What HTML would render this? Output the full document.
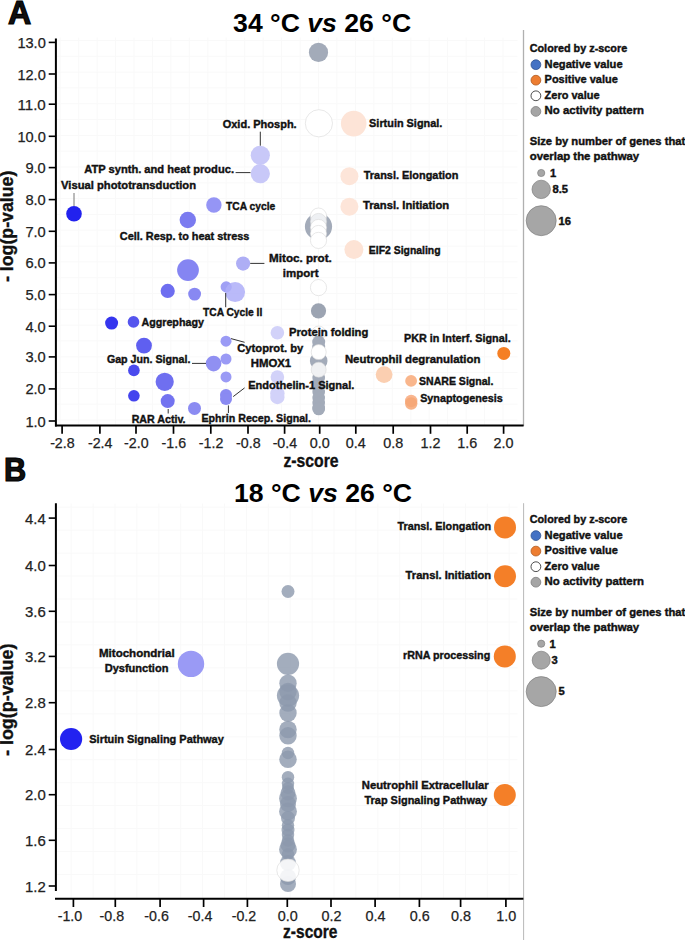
<!DOCTYPE html>
<html><head><meta charset="utf-8"><style>
html,body{margin:0;padding:0;background:#fff;}
body{width:685px;height:940px;overflow:hidden;}
svg{display:block;font-family:"Liberation Sans", sans-serif;}
</style></head><body>
<svg width="685" height="940" viewBox="0 0 685 940">
<rect width="685" height="940" fill="#fff"/>
<line x1="60.2" y1="37.5" x2="60.2" y2="425.5" stroke="#f9f9f9" stroke-width="1"/>
<line x1="78.7" y1="37.5" x2="78.7" y2="425.5" stroke="#f9f9f9" stroke-width="1"/>
<line x1="97.1" y1="37.5" x2="97.1" y2="425.5" stroke="#f9f9f9" stroke-width="1"/>
<line x1="115.6" y1="37.5" x2="115.6" y2="425.5" stroke="#f9f9f9" stroke-width="1"/>
<line x1="134.0" y1="37.5" x2="134.0" y2="425.5" stroke="#f9f9f9" stroke-width="1"/>
<line x1="152.5" y1="37.5" x2="152.5" y2="425.5" stroke="#f9f9f9" stroke-width="1"/>
<line x1="170.9" y1="37.5" x2="170.9" y2="425.5" stroke="#f9f9f9" stroke-width="1"/>
<line x1="189.3" y1="37.5" x2="189.3" y2="425.5" stroke="#f9f9f9" stroke-width="1"/>
<line x1="207.8" y1="37.5" x2="207.8" y2="425.5" stroke="#f9f9f9" stroke-width="1"/>
<line x1="226.2" y1="37.5" x2="226.2" y2="425.5" stroke="#f9f9f9" stroke-width="1"/>
<line x1="244.7" y1="37.5" x2="244.7" y2="425.5" stroke="#f9f9f9" stroke-width="1"/>
<line x1="263.1" y1="37.5" x2="263.1" y2="425.5" stroke="#f9f9f9" stroke-width="1"/>
<line x1="281.6" y1="37.5" x2="281.6" y2="425.5" stroke="#f9f9f9" stroke-width="1"/>
<line x1="300.1" y1="37.5" x2="300.1" y2="425.5" stroke="#f9f9f9" stroke-width="1"/>
<line x1="318.5" y1="37.5" x2="318.5" y2="425.5" stroke="#f9f9f9" stroke-width="1"/>
<line x1="336.9" y1="37.5" x2="336.9" y2="425.5" stroke="#f9f9f9" stroke-width="1"/>
<line x1="355.4" y1="37.5" x2="355.4" y2="425.5" stroke="#f9f9f9" stroke-width="1"/>
<line x1="373.9" y1="37.5" x2="373.9" y2="425.5" stroke="#f9f9f9" stroke-width="1"/>
<line x1="392.3" y1="37.5" x2="392.3" y2="425.5" stroke="#f9f9f9" stroke-width="1"/>
<line x1="410.8" y1="37.5" x2="410.8" y2="425.5" stroke="#f9f9f9" stroke-width="1"/>
<line x1="429.2" y1="37.5" x2="429.2" y2="425.5" stroke="#f9f9f9" stroke-width="1"/>
<line x1="447.6" y1="37.5" x2="447.6" y2="425.5" stroke="#f9f9f9" stroke-width="1"/>
<line x1="466.1" y1="37.5" x2="466.1" y2="425.5" stroke="#f9f9f9" stroke-width="1"/>
<line x1="484.5" y1="37.5" x2="484.5" y2="425.5" stroke="#f9f9f9" stroke-width="1"/>
<line x1="503.0" y1="37.5" x2="503.0" y2="425.5" stroke="#f9f9f9" stroke-width="1"/>
<line x1="56.5" y1="420.0" x2="517.5" y2="420.0" stroke="#f9f9f9" stroke-width="1"/>
<line x1="56.5" y1="404.2" x2="517.5" y2="404.2" stroke="#f9f9f9" stroke-width="1"/>
<line x1="56.5" y1="388.4" x2="517.5" y2="388.4" stroke="#f9f9f9" stroke-width="1"/>
<line x1="56.5" y1="372.6" x2="517.5" y2="372.6" stroke="#f9f9f9" stroke-width="1"/>
<line x1="56.5" y1="356.8" x2="517.5" y2="356.8" stroke="#f9f9f9" stroke-width="1"/>
<line x1="56.5" y1="340.9" x2="517.5" y2="340.9" stroke="#f9f9f9" stroke-width="1"/>
<line x1="56.5" y1="325.1" x2="517.5" y2="325.1" stroke="#f9f9f9" stroke-width="1"/>
<line x1="56.5" y1="309.3" x2="517.5" y2="309.3" stroke="#f9f9f9" stroke-width="1"/>
<line x1="56.5" y1="293.5" x2="517.5" y2="293.5" stroke="#f9f9f9" stroke-width="1"/>
<line x1="56.5" y1="277.7" x2="517.5" y2="277.7" stroke="#f9f9f9" stroke-width="1"/>
<line x1="56.5" y1="261.9" x2="517.5" y2="261.9" stroke="#f9f9f9" stroke-width="1"/>
<line x1="56.5" y1="246.1" x2="517.5" y2="246.1" stroke="#f9f9f9" stroke-width="1"/>
<line x1="56.5" y1="230.2" x2="517.5" y2="230.2" stroke="#f9f9f9" stroke-width="1"/>
<line x1="56.5" y1="214.4" x2="517.5" y2="214.4" stroke="#f9f9f9" stroke-width="1"/>
<line x1="56.5" y1="198.6" x2="517.5" y2="198.6" stroke="#f9f9f9" stroke-width="1"/>
<line x1="56.5" y1="182.8" x2="517.5" y2="182.8" stroke="#f9f9f9" stroke-width="1"/>
<line x1="56.5" y1="167.0" x2="517.5" y2="167.0" stroke="#f9f9f9" stroke-width="1"/>
<line x1="56.5" y1="151.2" x2="517.5" y2="151.2" stroke="#f9f9f9" stroke-width="1"/>
<line x1="56.5" y1="135.4" x2="517.5" y2="135.4" stroke="#f9f9f9" stroke-width="1"/>
<line x1="56.5" y1="119.6" x2="517.5" y2="119.6" stroke="#f9f9f9" stroke-width="1"/>
<line x1="56.5" y1="103.7" x2="517.5" y2="103.7" stroke="#f9f9f9" stroke-width="1"/>
<line x1="56.5" y1="87.9" x2="517.5" y2="87.9" stroke="#f9f9f9" stroke-width="1"/>
<line x1="56.5" y1="72.1" x2="517.5" y2="72.1" stroke="#f9f9f9" stroke-width="1"/>
<line x1="56.5" y1="56.3" x2="517.5" y2="56.3" stroke="#f9f9f9" stroke-width="1"/>
<line x1="56.5" y1="40.5" x2="517.5" y2="40.5" stroke="#f9f9f9" stroke-width="1"/>
<line x1="523.5" y1="29.9" x2="523.5" y2="426.0" stroke="#b0b0b0" stroke-width="1.3"/>
<circle cx="318.5" cy="52.4" r="9.6" fill="#a3abb9"/>
<circle cx="318.9" cy="123.3" r="13.6" fill="#ffffff" stroke="#d8d8d8" stroke-width="0.6"/>
<circle cx="353.7" cy="123.6" r="12.8" fill="#fde4d7"/>
<circle cx="260.3" cy="155.3" r="9.6" fill="#c8c8f8"/>
<circle cx="260.3" cy="173.7" r="9.6" fill="#c8c8f8"/>
<circle cx="349.4" cy="176.2" r="9.0" fill="#fde5d9"/>
<circle cx="349.4" cy="206.7" r="9.0" fill="#fde5d9"/>
<circle cx="213.9" cy="205.0" r="7.7" fill="#9595f5"/>
<circle cx="187.8" cy="220.0" r="8.2" fill="#7b7bf0"/>
<circle cx="318.5" cy="226.5" r="13.6" fill="#a3abb9"/>
<circle cx="318.5" cy="216.1" r="8.1" fill="#ffffff" stroke="#d8d8d8" stroke-width="0.6"/>
<circle cx="318.5" cy="221.5" r="8.1" fill="#eef0f3" stroke="#d8d8d8" stroke-width="0.6"/>
<circle cx="318.5" cy="227.5" r="8.1" fill="#ffffff" stroke="#d8d8d8" stroke-width="0.6"/>
<circle cx="318.5" cy="233.5" r="8.1" fill="#ffffff" stroke="#d8d8d8" stroke-width="0.6"/>
<circle cx="318.5" cy="240.4" r="8.1" fill="#ffffff" stroke="#d8d8d8" stroke-width="0.6"/>
<circle cx="353.9" cy="249.6" r="9.5" fill="#fde3d5"/>
<circle cx="188.0" cy="270.1" r="10.9" fill="#8585f2"/>
<circle cx="243.1" cy="263.6" r="7.1" fill="#aeaef5"/>
<circle cx="167.7" cy="290.9" r="7.1" fill="#6e6ef0"/>
<circle cx="194.6" cy="294.1" r="6.4" fill="#8888f2"/>
<circle cx="226.2" cy="286.9" r="5.6" fill="#a0a0f5"/>
<circle cx="235.1" cy="292.1" r="10.0" fill="#aeaef8" fill-opacity="0.85"/>
<circle cx="318.5" cy="287.6" r="8.1" fill="#ffffff" stroke="#d8d8d8" stroke-width="0.6"/>
<circle cx="318.5" cy="310.8" r="7.6" fill="#9ca4b2"/>
<circle cx="111.6" cy="323.1" r="6.5" fill="#3535ee"/>
<circle cx="133.5" cy="321.9" r="5.8" fill="#5555ee"/>
<circle cx="277.4" cy="332.7" r="6.8" fill="#d2d2f9"/>
<circle cx="226.0" cy="341.2" r="5.5" fill="#9a9af5"/>
<circle cx="144.0" cy="345.6" r="7.9" fill="#5f5ff0"/>
<circle cx="503.8" cy="353.4" r="6.5" fill="#f57f24"/>
<circle cx="213.6" cy="363.6" r="7.8" fill="#9090f2"/>
<circle cx="226.0" cy="359.0" r="5.5" fill="#9a9af5"/>
<circle cx="133.9" cy="370.4" r="5.8" fill="#4a4aee"/>
<circle cx="384.1" cy="374.6" r="8.4" fill="#fbcfb1"/>
<circle cx="226.0" cy="376.9" r="5.5" fill="#9a9af5"/>
<circle cx="277.4" cy="377.0" r="6.8" fill="#d2d2f9"/>
<circle cx="164.7" cy="381.8" r="9.1" fill="#6f6ff0"/>
<circle cx="411.1" cy="380.9" r="5.9" fill="#f9b68c"/>
<circle cx="133.9" cy="395.8" r="5.8" fill="#4444ee"/>
<circle cx="226.0" cy="395.0" r="6.0" fill="#8a8af2"/>
<circle cx="226.0" cy="399.0" r="6.0" fill="#8a8af2"/>
<circle cx="277.4" cy="393.5" r="7.2" fill="#d2d2f9"/>
<circle cx="277.4" cy="397.0" r="7.2" fill="#d2d2f9"/>
<circle cx="167.7" cy="401.1" r="7.0" fill="#7373f0"/>
<circle cx="194.5" cy="408.4" r="6.5" fill="#8b8bf2"/>
<circle cx="411.2" cy="401.0" r="6.2" fill="#f9b690"/>
<circle cx="411.2" cy="403.5" r="6.2" fill="#f6a674" fill-opacity="0.85"/>
<circle cx="74.0" cy="213.8" r="7.8" fill="#2222ee"/>
<circle cx="318.7" cy="333.0" r="7.0" fill="#ffffff" stroke="#d8d8d8" stroke-width="0.6"/>
<circle cx="318.7" cy="342.0" r="6.5" fill="#a3abb9"/>
<circle cx="318.7" cy="347.0" r="6.5" fill="#a3abb9"/>
<circle cx="318.7" cy="355.0" r="6.5" fill="#a3abb9"/>
<circle cx="318.7" cy="361.0" r="8.8" fill="#a3abb9"/>
<circle cx="318.7" cy="366.0" r="6.5" fill="#a3abb9"/>
<circle cx="318.7" cy="378.0" r="6.3" fill="#a3abb9"/>
<circle cx="318.7" cy="385.0" r="6.3" fill="#a3abb9"/>
<circle cx="318.7" cy="392.0" r="6.3" fill="#a3abb9"/>
<circle cx="318.7" cy="398.0" r="6.3" fill="#a3abb9"/>
<circle cx="318.7" cy="403.0" r="6.3" fill="#a3abb9"/>
<circle cx="318.7" cy="408.0" r="6.3" fill="#a3abb9"/>
<circle cx="318.7" cy="409.0" r="6.3" fill="#a3abb9"/>
<circle cx="318.7" cy="352.1" r="7.5" fill="#ffffff" stroke="#d8d8d8" stroke-width="0.6"/>
<circle cx="318.7" cy="369.7" r="7.5" fill="#f0f1f3" stroke="#d8d8d8" stroke-width="0.6"/>
<line x1="74.0" y1="193.0" x2="74.0" y2="206.0" stroke="#777" stroke-width="1"/>
<line x1="260.3" y1="131.7" x2="260.3" y2="145.7" stroke="#333" stroke-width="1"/>
<line x1="235.6" y1="172.6" x2="250.5" y2="172.6" stroke="#333" stroke-width="1"/>
<line x1="250.2" y1="263.4" x2="264.4" y2="263.4" stroke="#333" stroke-width="1"/>
<line x1="225.7" y1="293.0" x2="225.7" y2="307.2" stroke="#333" stroke-width="1"/>
<line x1="231.0" y1="338.6" x2="244.6" y2="342.3" stroke="#333" stroke-width="1"/>
<line x1="192.0" y1="363.4" x2="206.0" y2="363.4" stroke="#333" stroke-width="1"/>
<line x1="233.2" y1="396.6" x2="244.6" y2="387.9" stroke="#333" stroke-width="1"/>
<line x1="228.4" y1="405.4" x2="228.4" y2="413.0" stroke="#333" stroke-width="1"/>
<line x1="168.2" y1="409.0" x2="168.2" y2="413.5" stroke="#333" stroke-width="1"/>
<text x="222.7" y="127.7" font-size="11.2" font-weight="bold" text-anchor="start" fill="#111" textLength="74.0" lengthAdjust="spacingAndGlyphs" stroke="#111" stroke-width="0.4">Oxid. Phosph.</text>
<text x="369.1" y="126.9" font-size="11.2" font-weight="bold" text-anchor="start" fill="#111" textLength="73.2" lengthAdjust="spacingAndGlyphs" stroke="#111" stroke-width="0.4">Sirtuin Signal.</text>
<text x="84.2" y="172.8" font-size="11.2" font-weight="bold" text-anchor="start" fill="#111" textLength="149.8" lengthAdjust="spacingAndGlyphs" stroke="#111" stroke-width="0.4">ATP synth. and heat produc.</text>
<text x="363.8" y="179.4" font-size="11.2" font-weight="bold" text-anchor="start" fill="#111" textLength="94.6" lengthAdjust="spacingAndGlyphs" stroke="#111" stroke-width="0.4">Transl. Elongation</text>
<text x="61.1" y="189.4" font-size="11.2" font-weight="bold" text-anchor="start" fill="#111" textLength="134.9" lengthAdjust="spacingAndGlyphs" stroke="#111" stroke-width="0.4">Visual phototransduction</text>
<text x="226.0" y="209.7" font-size="11.2" font-weight="bold" text-anchor="start" fill="#111" textLength="49.2" lengthAdjust="spacingAndGlyphs" stroke="#111" stroke-width="0.4">TCA cycle</text>
<text x="363.0" y="209.1" font-size="11.2" font-weight="bold" text-anchor="start" fill="#111" textLength="86.2" lengthAdjust="spacingAndGlyphs" stroke="#111" stroke-width="0.4">Transl. Initiation</text>
<text x="119.8" y="239.9" font-size="11.2" font-weight="bold" text-anchor="start" fill="#111" textLength="129.6" lengthAdjust="spacingAndGlyphs" stroke="#111" stroke-width="0.4">Cell. Resp. to heat stress</text>
<text x="368.8" y="253.8" font-size="11.2" font-weight="bold" text-anchor="start" fill="#111" textLength="71.8" lengthAdjust="spacingAndGlyphs" stroke="#111" stroke-width="0.4">EIF2 Signaling</text>
<text x="269.1" y="262.3" font-size="11.2" font-weight="bold" text-anchor="start" fill="#111" textLength="62.7" lengthAdjust="spacingAndGlyphs" stroke="#111" stroke-width="0.4">Mitoc. prot.</text>
<text x="282.8" y="277.2" font-size="11.2" font-weight="bold" text-anchor="start" fill="#111" textLength="35.7" lengthAdjust="spacingAndGlyphs" stroke="#111" stroke-width="0.4">import</text>
<text x="203.0" y="315.8" font-size="11.2" font-weight="bold" text-anchor="start" fill="#111" textLength="59.3" lengthAdjust="spacingAndGlyphs" stroke="#111" stroke-width="0.4">TCA Cycle II</text>
<text x="141.4" y="326.1" font-size="11.2" font-weight="bold" text-anchor="start" fill="#111" textLength="62.5" lengthAdjust="spacingAndGlyphs" stroke="#111" stroke-width="0.4">Aggrephagy</text>
<text x="289.0" y="335.9" font-size="11.2" font-weight="bold" text-anchor="start" fill="#111" textLength="79.3" lengthAdjust="spacingAndGlyphs" stroke="#111" stroke-width="0.4">Protein folding</text>
<text x="404.0" y="342.1" font-size="11.2" font-weight="bold" text-anchor="start" fill="#111" textLength="106.7" lengthAdjust="spacingAndGlyphs" stroke="#111" stroke-width="0.4">PKR in Interf. Signal.</text>
<text x="237.2" y="352.4" font-size="11.2" font-weight="bold" text-anchor="start" fill="#111" textLength="66.1" lengthAdjust="spacingAndGlyphs" stroke="#111" stroke-width="0.4">Cytoprot. by</text>
<text x="106.9" y="362.9" font-size="11.2" font-weight="bold" text-anchor="start" fill="#111" textLength="83.5" lengthAdjust="spacingAndGlyphs" stroke="#111" stroke-width="0.4">Gap Jun. Signal.</text>
<text x="344.9" y="362.7" font-size="11.2" font-weight="bold" text-anchor="start" fill="#111" textLength="135.5" lengthAdjust="spacingAndGlyphs" stroke="#111" stroke-width="0.4">Neutrophil degranulation</text>
<text x="250.7" y="367.1" font-size="11.2" font-weight="bold" text-anchor="start" fill="#111" textLength="40.5" lengthAdjust="spacingAndGlyphs" stroke="#111" stroke-width="0.4">HMOX1</text>
<text x="419.1" y="384.8" font-size="11.2" font-weight="bold" text-anchor="start" fill="#111" textLength="74.3" lengthAdjust="spacingAndGlyphs" stroke="#111" stroke-width="0.4">SNARE Signal.</text>
<text x="248.2" y="388.5" font-size="11.2" font-weight="bold" text-anchor="start" fill="#111" textLength="106.2" lengthAdjust="spacingAndGlyphs" stroke="#111" stroke-width="0.4">Endothelin-1 Signal.</text>
<text x="420.2" y="401.6" font-size="11.2" font-weight="bold" text-anchor="start" fill="#111" textLength="82.6" lengthAdjust="spacingAndGlyphs" stroke="#111" stroke-width="0.4">Synaptogenesis</text>
<text x="131.7" y="422.5" font-size="11.2" font-weight="bold" text-anchor="start" fill="#111" textLength="53.8" lengthAdjust="spacingAndGlyphs" stroke="#111" stroke-width="0.4">RAR Activ.</text>
<text x="201.5" y="421.8" font-size="11.2" font-weight="bold" text-anchor="start" fill="#111" textLength="109.5" lengthAdjust="spacingAndGlyphs" stroke="#111" stroke-width="0.4">Ephrin Recep. Signal.</text>
<line x1="55.9" y1="38.4" x2="55.9" y2="426.6" stroke="#000" stroke-width="2"/>
<line x1="55.0" y1="425.6" x2="523.6" y2="425.6" stroke="#000" stroke-width="2"/>
<line x1="48.7" y1="42.4" x2="56.0" y2="42.4" stroke="#000" stroke-width="1.6"/>
<text x="45.8" y="47.9" font-size="15.5" font-weight="normal" text-anchor="end" fill="#222" textLength="28.4" lengthAdjust="spacingAndGlyphs" stroke="#222" stroke-width="0.25">13.0</text>
<line x1="48.7" y1="74.0" x2="56.0" y2="74.0" stroke="#000" stroke-width="1.6"/>
<text x="45.8" y="79.5" font-size="15.5" font-weight="normal" text-anchor="end" fill="#222" textLength="28.4" lengthAdjust="spacingAndGlyphs" stroke="#222" stroke-width="0.25">12.0</text>
<line x1="48.7" y1="104.2" x2="56.0" y2="104.2" stroke="#000" stroke-width="1.6"/>
<text x="45.8" y="109.7" font-size="15.5" font-weight="normal" text-anchor="end" fill="#222" textLength="28.4" lengthAdjust="spacingAndGlyphs" stroke="#222" stroke-width="0.25">11.0</text>
<line x1="48.7" y1="136.3" x2="56.0" y2="136.3" stroke="#000" stroke-width="1.6"/>
<text x="45.8" y="141.8" font-size="15.5" font-weight="normal" text-anchor="end" fill="#222" textLength="28.4" lengthAdjust="spacingAndGlyphs" stroke="#222" stroke-width="0.25">10.0</text>
<line x1="48.7" y1="167.6" x2="56.0" y2="167.6" stroke="#000" stroke-width="1.6"/>
<text x="45.8" y="173.1" font-size="15.5" font-weight="normal" text-anchor="end" fill="#222" textLength="20.4" lengthAdjust="spacingAndGlyphs" stroke="#222" stroke-width="0.25">9.0</text>
<line x1="48.7" y1="199.6" x2="56.0" y2="199.6" stroke="#000" stroke-width="1.6"/>
<text x="45.8" y="205.1" font-size="15.5" font-weight="normal" text-anchor="end" fill="#222" textLength="20.4" lengthAdjust="spacingAndGlyphs" stroke="#222" stroke-width="0.25">8.0</text>
<line x1="48.7" y1="231.3" x2="56.0" y2="231.3" stroke="#000" stroke-width="1.6"/>
<text x="45.8" y="236.8" font-size="15.5" font-weight="normal" text-anchor="end" fill="#222" textLength="20.4" lengthAdjust="spacingAndGlyphs" stroke="#222" stroke-width="0.25">7.0</text>
<line x1="48.7" y1="262.9" x2="56.0" y2="262.9" stroke="#000" stroke-width="1.6"/>
<text x="45.8" y="268.4" font-size="15.5" font-weight="normal" text-anchor="end" fill="#222" textLength="20.4" lengthAdjust="spacingAndGlyphs" stroke="#222" stroke-width="0.25">6.0</text>
<line x1="48.7" y1="294.6" x2="56.0" y2="294.6" stroke="#000" stroke-width="1.6"/>
<text x="45.8" y="300.1" font-size="15.5" font-weight="normal" text-anchor="end" fill="#222" textLength="20.4" lengthAdjust="spacingAndGlyphs" stroke="#222" stroke-width="0.25">5.0</text>
<line x1="48.7" y1="326.2" x2="56.0" y2="326.2" stroke="#000" stroke-width="1.6"/>
<text x="45.8" y="331.7" font-size="15.5" font-weight="normal" text-anchor="end" fill="#222" textLength="20.4" lengthAdjust="spacingAndGlyphs" stroke="#222" stroke-width="0.25">4.0</text>
<line x1="48.7" y1="356.9" x2="56.0" y2="356.9" stroke="#000" stroke-width="1.6"/>
<text x="45.8" y="362.4" font-size="15.5" font-weight="normal" text-anchor="end" fill="#222" textLength="20.4" lengthAdjust="spacingAndGlyphs" stroke="#222" stroke-width="0.25">3.0</text>
<line x1="48.7" y1="388.9" x2="56.0" y2="388.9" stroke="#000" stroke-width="1.6"/>
<text x="45.8" y="394.4" font-size="15.5" font-weight="normal" text-anchor="end" fill="#222" textLength="20.4" lengthAdjust="spacingAndGlyphs" stroke="#222" stroke-width="0.25">2.0</text>
<line x1="48.7" y1="421.0" x2="56.0" y2="421.0" stroke="#000" stroke-width="1.6"/>
<text x="45.8" y="426.5" font-size="15.5" font-weight="normal" text-anchor="end" fill="#222" textLength="20.4" lengthAdjust="spacingAndGlyphs" stroke="#222" stroke-width="0.25">1.0</text>
<line x1="62.1" y1="426.0" x2="62.1" y2="433.8" stroke="#000" stroke-width="1.7"/>
<text x="62.4" y="448.1" font-size="14.4" font-weight="normal" text-anchor="middle" fill="#222" textLength="24.5" lengthAdjust="spacingAndGlyphs" stroke="#222" stroke-width="0.25">-2.8</text>
<line x1="99.9" y1="426.0" x2="99.9" y2="433.8" stroke="#000" stroke-width="1.7"/>
<text x="100.2" y="448.1" font-size="14.4" font-weight="normal" text-anchor="middle" fill="#222" textLength="24.5" lengthAdjust="spacingAndGlyphs" stroke="#222" stroke-width="0.25">-2.4</text>
<line x1="136.0" y1="426.0" x2="136.0" y2="433.8" stroke="#000" stroke-width="1.7"/>
<text x="136.3" y="448.1" font-size="14.4" font-weight="normal" text-anchor="middle" fill="#222" textLength="24.5" lengthAdjust="spacingAndGlyphs" stroke="#222" stroke-width="0.25">-2.0</text>
<line x1="173.5" y1="426.0" x2="173.5" y2="433.8" stroke="#000" stroke-width="1.7"/>
<text x="173.8" y="448.1" font-size="14.4" font-weight="normal" text-anchor="middle" fill="#222" textLength="24.5" lengthAdjust="spacingAndGlyphs" stroke="#222" stroke-width="0.25">-1.6</text>
<line x1="210.8" y1="426.0" x2="210.8" y2="433.8" stroke="#000" stroke-width="1.7"/>
<text x="211.1" y="448.1" font-size="14.4" font-weight="normal" text-anchor="middle" fill="#222" textLength="24.5" lengthAdjust="spacingAndGlyphs" stroke="#222" stroke-width="0.25">-1.2</text>
<line x1="248.0" y1="426.0" x2="248.0" y2="433.8" stroke="#000" stroke-width="1.7"/>
<text x="248.3" y="448.1" font-size="14.4" font-weight="normal" text-anchor="middle" fill="#222" textLength="24.5" lengthAdjust="spacingAndGlyphs" stroke="#222" stroke-width="0.25">-0.8</text>
<line x1="284.6" y1="426.0" x2="284.6" y2="433.8" stroke="#000" stroke-width="1.7"/>
<text x="284.9" y="448.1" font-size="14.4" font-weight="normal" text-anchor="middle" fill="#222" textLength="24.5" lengthAdjust="spacingAndGlyphs" stroke="#222" stroke-width="0.25">-0.4</text>
<line x1="319.7" y1="426.0" x2="319.7" y2="433.8" stroke="#000" stroke-width="1.7"/>
<text x="319.7" y="448.1" font-size="14.4" font-weight="normal" text-anchor="middle" fill="#222" textLength="20.0" lengthAdjust="spacingAndGlyphs" stroke="#222" stroke-width="0.25">0.0</text>
<line x1="355.8" y1="426.0" x2="355.8" y2="433.8" stroke="#000" stroke-width="1.7"/>
<text x="355.8" y="448.1" font-size="14.4" font-weight="normal" text-anchor="middle" fill="#222" textLength="20.0" lengthAdjust="spacingAndGlyphs" stroke="#222" stroke-width="0.25">0.4</text>
<line x1="393.2" y1="426.0" x2="393.2" y2="433.8" stroke="#000" stroke-width="1.7"/>
<text x="393.2" y="448.1" font-size="14.4" font-weight="normal" text-anchor="middle" fill="#222" textLength="20.0" lengthAdjust="spacingAndGlyphs" stroke="#222" stroke-width="0.25">0.8</text>
<line x1="430.5" y1="426.0" x2="430.5" y2="433.8" stroke="#000" stroke-width="1.7"/>
<text x="430.5" y="448.1" font-size="14.4" font-weight="normal" text-anchor="middle" fill="#222" textLength="20.0" lengthAdjust="spacingAndGlyphs" stroke="#222" stroke-width="0.25">1.2</text>
<line x1="467.2" y1="426.0" x2="467.2" y2="433.8" stroke="#000" stroke-width="1.7"/>
<text x="467.2" y="448.1" font-size="14.4" font-weight="normal" text-anchor="middle" fill="#222" textLength="20.0" lengthAdjust="spacingAndGlyphs" stroke="#222" stroke-width="0.25">1.6</text>
<line x1="503.6" y1="426.0" x2="503.6" y2="433.8" stroke="#000" stroke-width="1.7"/>
<text x="503.6" y="448.1" font-size="14.4" font-weight="normal" text-anchor="middle" fill="#222" textLength="20.0" lengthAdjust="spacingAndGlyphs" stroke="#222" stroke-width="0.25">2.0</text>
<text x="283.4" y="466.7" font-size="18" font-weight="bold" text-anchor="start" fill="#111" textLength="55.2" lengthAdjust="spacingAndGlyphs" stroke="#111" stroke-width="0.35">z-score</text>
<g transform="translate(13.4,282) rotate(-90)">
<text x="0.0" y="0.0" font-size="18" font-weight="bold" text-anchor="start" fill="#111" textLength="111.3" lengthAdjust="spacingAndGlyphs" stroke="#111" stroke-width="0.35">- log(p-value)</text>
</g>
<text x="8.0" y="24.4" font-size="33" font-weight="bold" text-anchor="start" fill="#111" textLength="23.2" lengthAdjust="spacingAndGlyphs" stroke="#000" stroke-width="1.2">A</text>
<text x="3.9" y="480.8" font-size="33" font-weight="bold" text-anchor="start" fill="#111" textLength="22.2" lengthAdjust="spacingAndGlyphs" stroke="#000" stroke-width="1.2">B</text>
<text x="233.1" y="32.1" font-size="26.5" font-weight="bold" fill="#000" textLength="178" lengthAdjust="spacingAndGlyphs">34 °C <tspan font-style="italic">vs</tspan> 26 °C</text>
<text x="234.0" y="501.5" font-size="26.5" font-weight="bold" fill="#000" textLength="178" lengthAdjust="spacingAndGlyphs">18 °C <tspan font-style="italic">vs</tspan> 26 °C</text>
<text x="529.7" y="52.1" font-size="10.5" font-weight="bold" text-anchor="start" fill="#111" textLength="97.5" lengthAdjust="spacingAndGlyphs" stroke="#111" stroke-width="0.4">Colored by z-score</text>
<circle cx="535.9" cy="64.7" r="4.9" fill="#4472c4" stroke="#2f528f" stroke-width="0.8"/>
<text x="544.6" y="67.7" font-size="11.2" font-weight="bold" text-anchor="start" fill="#111" textLength="78.0" lengthAdjust="spacingAndGlyphs" stroke="#111" stroke-width="0.4">Negative value</text>
<circle cx="535.9" cy="80.2" r="4.9" fill="#ed7d31" stroke="#ae5a21" stroke-width="0.8"/>
<text x="544.6" y="83.2" font-size="11.2" font-weight="bold" text-anchor="start" fill="#111" textLength="73.2" lengthAdjust="spacingAndGlyphs" stroke="#111" stroke-width="0.4">Positive value</text>
<circle cx="535.9" cy="95.8" r="4.9" fill="#ffffff" stroke="#222" stroke-width="0.8"/>
<text x="544.6" y="98.8" font-size="11.2" font-weight="bold" text-anchor="start" fill="#111" textLength="55.0" lengthAdjust="spacingAndGlyphs" stroke="#111" stroke-width="0.4">Zero value</text>
<circle cx="535.9" cy="111.4" r="4.9" fill="#a5a5a5" stroke="#7f7f7f" stroke-width="0.8"/>
<text x="544.6" y="114.4" font-size="11.2" font-weight="bold" text-anchor="start" fill="#111" textLength="99.5" lengthAdjust="spacingAndGlyphs" stroke="#111" stroke-width="0.4">No activity pattern</text>
<text x="529.7" y="145.3" font-size="10.5" font-weight="bold" text-anchor="start" fill="#111" textLength="155.5" lengthAdjust="spacingAndGlyphs" stroke="#111" stroke-width="0.4">Size by number of genes that</text>
<text x="529.7" y="159.8" font-size="10.5" font-weight="bold" text-anchor="start" fill="#111" textLength="109.5" lengthAdjust="spacingAndGlyphs" stroke="#111" stroke-width="0.4">overlap the pathway</text>
<circle cx="541.2" cy="173.0" r="3.6" fill="#a6a6a6" stroke="#808080" stroke-width="0.7"/>
<text x="550.0" y="176.8" font-size="11.2" font-weight="bold" text-anchor="start" fill="#111" stroke="#111" stroke-width="0.4">1</text>
<circle cx="541.2" cy="189.4" r="9.2" fill="#a6a6a6" stroke="#808080" stroke-width="0.7"/>
<text x="552.5" y="193.2" font-size="11.2" font-weight="bold" text-anchor="start" fill="#111" stroke="#111" stroke-width="0.4">8.5</text>
<circle cx="541.2" cy="220.7" r="15.0" fill="#a6a6a6" stroke="#808080" stroke-width="0.7"/>
<text x="558.5" y="224.5" font-size="11.2" font-weight="bold" text-anchor="start" fill="#111" stroke="#111" stroke-width="0.4">16</text>
<line x1="71.2" y1="503.5" x2="71.2" y2="898.5" stroke="#f9f9f9" stroke-width="1"/>
<line x1="93.1" y1="503.5" x2="93.1" y2="898.5" stroke="#f9f9f9" stroke-width="1"/>
<line x1="115.0" y1="503.5" x2="115.0" y2="898.5" stroke="#f9f9f9" stroke-width="1"/>
<line x1="136.9" y1="503.5" x2="136.9" y2="898.5" stroke="#f9f9f9" stroke-width="1"/>
<line x1="158.8" y1="503.5" x2="158.8" y2="898.5" stroke="#f9f9f9" stroke-width="1"/>
<line x1="180.7" y1="503.5" x2="180.7" y2="898.5" stroke="#f9f9f9" stroke-width="1"/>
<line x1="202.6" y1="503.5" x2="202.6" y2="898.5" stroke="#f9f9f9" stroke-width="1"/>
<line x1="224.5" y1="503.5" x2="224.5" y2="898.5" stroke="#f9f9f9" stroke-width="1"/>
<line x1="246.4" y1="503.5" x2="246.4" y2="898.5" stroke="#f9f9f9" stroke-width="1"/>
<line x1="268.3" y1="503.5" x2="268.3" y2="898.5" stroke="#f9f9f9" stroke-width="1"/>
<line x1="290.2" y1="503.5" x2="290.2" y2="898.5" stroke="#f9f9f9" stroke-width="1"/>
<line x1="312.1" y1="503.5" x2="312.1" y2="898.5" stroke="#f9f9f9" stroke-width="1"/>
<line x1="334.0" y1="503.5" x2="334.0" y2="898.5" stroke="#f9f9f9" stroke-width="1"/>
<line x1="355.9" y1="503.5" x2="355.9" y2="898.5" stroke="#f9f9f9" stroke-width="1"/>
<line x1="377.8" y1="503.5" x2="377.8" y2="898.5" stroke="#f9f9f9" stroke-width="1"/>
<line x1="399.7" y1="503.5" x2="399.7" y2="898.5" stroke="#f9f9f9" stroke-width="1"/>
<line x1="421.6" y1="503.5" x2="421.6" y2="898.5" stroke="#f9f9f9" stroke-width="1"/>
<line x1="443.5" y1="503.5" x2="443.5" y2="898.5" stroke="#f9f9f9" stroke-width="1"/>
<line x1="465.4" y1="503.5" x2="465.4" y2="898.5" stroke="#f9f9f9" stroke-width="1"/>
<line x1="487.3" y1="503.5" x2="487.3" y2="898.5" stroke="#f9f9f9" stroke-width="1"/>
<line x1="509.2" y1="503.5" x2="509.2" y2="898.5" stroke="#f9f9f9" stroke-width="1"/>
<line x1="56.5" y1="874.5" x2="517.5" y2="874.5" stroke="#f9f9f9" stroke-width="1"/>
<line x1="56.5" y1="851.6" x2="517.5" y2="851.6" stroke="#f9f9f9" stroke-width="1"/>
<line x1="56.5" y1="828.6" x2="517.5" y2="828.6" stroke="#f9f9f9" stroke-width="1"/>
<line x1="56.5" y1="805.6" x2="517.5" y2="805.6" stroke="#f9f9f9" stroke-width="1"/>
<line x1="56.5" y1="782.7" x2="517.5" y2="782.7" stroke="#f9f9f9" stroke-width="1"/>
<line x1="56.5" y1="759.7" x2="517.5" y2="759.7" stroke="#f9f9f9" stroke-width="1"/>
<line x1="56.5" y1="736.8" x2="517.5" y2="736.8" stroke="#f9f9f9" stroke-width="1"/>
<line x1="56.5" y1="713.8" x2="517.5" y2="713.8" stroke="#f9f9f9" stroke-width="1"/>
<line x1="56.5" y1="690.8" x2="517.5" y2="690.8" stroke="#f9f9f9" stroke-width="1"/>
<line x1="56.5" y1="667.9" x2="517.5" y2="667.9" stroke="#f9f9f9" stroke-width="1"/>
<line x1="56.5" y1="644.9" x2="517.5" y2="644.9" stroke="#f9f9f9" stroke-width="1"/>
<line x1="56.5" y1="622.0" x2="517.5" y2="622.0" stroke="#f9f9f9" stroke-width="1"/>
<line x1="56.5" y1="599.0" x2="517.5" y2="599.0" stroke="#f9f9f9" stroke-width="1"/>
<line x1="56.5" y1="576.0" x2="517.5" y2="576.0" stroke="#f9f9f9" stroke-width="1"/>
<line x1="56.5" y1="553.1" x2="517.5" y2="553.1" stroke="#f9f9f9" stroke-width="1"/>
<line x1="56.5" y1="530.1" x2="517.5" y2="530.1" stroke="#f9f9f9" stroke-width="1"/>
<line x1="56.5" y1="507.2" x2="517.5" y2="507.2" stroke="#f9f9f9" stroke-width="1"/>
<line x1="523.6" y1="503.2" x2="523.6" y2="940.0" stroke="#b0b0b0" stroke-width="0.9"/>
<circle cx="191.0" cy="663.9" r="13.2" fill="#9a9af5"/>
<circle cx="71.1" cy="739.0" r="11.1" fill="#2222f0"/>
<circle cx="505.0" cy="527.4" r="11.0" fill="#f47f28"/>
<circle cx="505.0" cy="576.2" r="11.0" fill="#f47f28"/>
<circle cx="504.8" cy="656.4" r="11.0" fill="#f47f28"/>
<circle cx="504.8" cy="795.0" r="11.0" fill="#f47f28"/>
<circle cx="288.0" cy="591.5" r="6.5" fill="#8c98ad" fill-opacity="0.8"/>
<circle cx="288.0" cy="663.8" r="11.1" fill="#8c98ad" fill-opacity="0.8"/>
<circle cx="288.0" cy="683.2" r="8.7" fill="#8c98ad" fill-opacity="0.8"/>
<circle cx="288.0" cy="695.6" r="11.1" fill="#8c98ad" fill-opacity="0.8"/>
<circle cx="288.0" cy="691.5" r="8.7" fill="#8c98ad" fill-opacity="0.8"/>
<circle cx="288.0" cy="703.0" r="8.7" fill="#8c98ad" fill-opacity="0.8"/>
<circle cx="288.0" cy="713.0" r="8.7" fill="#8c98ad" fill-opacity="0.8"/>
<circle cx="288.0" cy="729.5" r="8.7" fill="#8c98ad" fill-opacity="0.8"/>
<circle cx="288.0" cy="735.8" r="8.7" fill="#8c98ad" fill-opacity="0.8"/>
<circle cx="288.0" cy="753.0" r="6.2" fill="#8c98ad" fill-opacity="0.8"/>
<circle cx="288.0" cy="759.3" r="8.7" fill="#8c98ad" fill-opacity="0.8"/>
<circle cx="288.0" cy="777.2" r="6.2" fill="#8c98ad" fill-opacity="0.8"/>
<circle cx="288.0" cy="783.8" r="6.2" fill="#8c98ad" fill-opacity="0.8"/>
<circle cx="288.0" cy="788.0" r="6.0" fill="#8c98ad" fill-opacity="0.8"/>
<circle cx="288.0" cy="793.0" r="7.5" fill="#8c98ad" fill-opacity="0.8"/>
<circle cx="288.0" cy="798.4" r="8.9" fill="#8c98ad" fill-opacity="0.8"/>
<circle cx="288.0" cy="804.0" r="8.0" fill="#8c98ad" fill-opacity="0.8"/>
<circle cx="288.0" cy="811.5" r="8.9" fill="#8c98ad" fill-opacity="0.8"/>
<circle cx="288.0" cy="818.0" r="7.0" fill="#8c98ad" fill-opacity="0.8"/>
<circle cx="288.0" cy="825.3" r="6.2" fill="#8c98ad" fill-opacity="0.8"/>
<circle cx="288.0" cy="830.0" r="6.5" fill="#8c98ad" fill-opacity="0.8"/>
<circle cx="288.0" cy="835.0" r="6.2" fill="#8c98ad" fill-opacity="0.8"/>
<circle cx="288.0" cy="840.5" r="6.2" fill="#8c98ad" fill-opacity="0.8"/>
<circle cx="288.0" cy="845.0" r="7.5" fill="#8c98ad" fill-opacity="0.8"/>
<circle cx="288.0" cy="849.5" r="8.9" fill="#8c98ad" fill-opacity="0.8"/>
<circle cx="288.0" cy="854.4" r="6.2" fill="#8c98ad" fill-opacity="0.8"/>
<circle cx="288.0" cy="863.0" r="8.0" fill="#8c98ad" fill-opacity="0.8"/>
<circle cx="288.0" cy="877.0" r="8.0" fill="#8c98ad" fill-opacity="0.8"/>
<circle cx="288.0" cy="884.0" r="8.0" fill="#8c98ad" fill-opacity="0.8"/>
<circle cx="288.0" cy="870.3" r="11.2" fill="#ffffff" fill-opacity="0.88" stroke="#d8d8d8" stroke-width="0.6"/>
<text x="99.0" y="657.2" font-size="11.2" font-weight="bold" text-anchor="start" fill="#111" textLength="75.6" lengthAdjust="spacingAndGlyphs" stroke="#111" stroke-width="0.4">Mitochondrial</text>
<text x="104.7" y="672.1" font-size="11.2" font-weight="bold" text-anchor="start" fill="#111" textLength="63.7" lengthAdjust="spacingAndGlyphs" stroke="#111" stroke-width="0.4">Dysfunction</text>
<text x="89.3" y="742.8" font-size="11.2" font-weight="bold" text-anchor="start" fill="#111" textLength="134.5" lengthAdjust="spacingAndGlyphs" stroke="#111" stroke-width="0.4">Sirtuin Signaling Pathway</text>
<text x="397.5" y="530.0" font-size="11.2" font-weight="bold" text-anchor="start" fill="#111" textLength="93.7" lengthAdjust="spacingAndGlyphs" stroke="#111" stroke-width="0.4">Transl. Elongation</text>
<text x="405.6" y="578.8" font-size="11.2" font-weight="bold" text-anchor="start" fill="#111" textLength="85.6" lengthAdjust="spacingAndGlyphs" stroke="#111" stroke-width="0.4">Transl. Initiation</text>
<text x="403.0" y="658.5" font-size="11.2" font-weight="bold" text-anchor="start" fill="#111" textLength="87.2" lengthAdjust="spacingAndGlyphs" stroke="#111" stroke-width="0.4">rRNA processing</text>
<text x="361.8" y="788.9" font-size="11.2" font-weight="bold" text-anchor="start" fill="#111" textLength="126.9" lengthAdjust="spacingAndGlyphs" stroke="#111" stroke-width="0.4">Neutrophil Extracellular</text>
<text x="364.5" y="803.6" font-size="11.2" font-weight="bold" text-anchor="start" fill="#111" textLength="122.7" lengthAdjust="spacingAndGlyphs" stroke="#111" stroke-width="0.4">Trap Signaling Pathway</text>
<line x1="55.9" y1="503.2" x2="55.9" y2="891.0" stroke="#000" stroke-width="2"/>
<line x1="55.0" y1="898.7" x2="523.4" y2="898.7" stroke="#000" stroke-width="2"/>
<line x1="48.7" y1="518.1" x2="56.0" y2="518.1" stroke="#000" stroke-width="1.6"/>
<text x="45.8" y="523.6" font-size="15.5" font-weight="normal" text-anchor="end" fill="#222" textLength="20.8" lengthAdjust="spacingAndGlyphs" stroke="#222" stroke-width="0.25">4.4</text>
<line x1="48.7" y1="565.5" x2="56.0" y2="565.5" stroke="#000" stroke-width="1.6"/>
<text x="45.8" y="571.0" font-size="15.5" font-weight="normal" text-anchor="end" fill="#222" textLength="20.8" lengthAdjust="spacingAndGlyphs" stroke="#222" stroke-width="0.25">4.0</text>
<line x1="48.7" y1="611.3" x2="56.0" y2="611.3" stroke="#000" stroke-width="1.6"/>
<text x="45.8" y="616.8" font-size="15.5" font-weight="normal" text-anchor="end" fill="#222" textLength="20.8" lengthAdjust="spacingAndGlyphs" stroke="#222" stroke-width="0.25">3.6</text>
<line x1="48.7" y1="656.4" x2="56.0" y2="656.4" stroke="#000" stroke-width="1.6"/>
<text x="45.8" y="661.9" font-size="15.5" font-weight="normal" text-anchor="end" fill="#222" textLength="20.8" lengthAdjust="spacingAndGlyphs" stroke="#222" stroke-width="0.25">3.2</text>
<line x1="48.7" y1="702.7" x2="56.0" y2="702.7" stroke="#000" stroke-width="1.6"/>
<text x="45.8" y="708.2" font-size="15.5" font-weight="normal" text-anchor="end" fill="#222" textLength="20.8" lengthAdjust="spacingAndGlyphs" stroke="#222" stroke-width="0.25">2.8</text>
<line x1="48.7" y1="749.5" x2="56.0" y2="749.5" stroke="#000" stroke-width="1.6"/>
<text x="45.8" y="755.0" font-size="15.5" font-weight="normal" text-anchor="end" fill="#222" textLength="20.8" lengthAdjust="spacingAndGlyphs" stroke="#222" stroke-width="0.25">2.4</text>
<line x1="48.7" y1="794.7" x2="56.0" y2="794.7" stroke="#000" stroke-width="1.6"/>
<text x="45.8" y="800.2" font-size="15.5" font-weight="normal" text-anchor="end" fill="#222" textLength="20.8" lengthAdjust="spacingAndGlyphs" stroke="#222" stroke-width="0.25">2.0</text>
<line x1="48.7" y1="840.3" x2="56.0" y2="840.3" stroke="#000" stroke-width="1.6"/>
<text x="45.8" y="845.8" font-size="15.5" font-weight="normal" text-anchor="end" fill="#222" textLength="20.8" lengthAdjust="spacingAndGlyphs" stroke="#222" stroke-width="0.25">1.6</text>
<line x1="48.7" y1="886.0" x2="56.0" y2="886.0" stroke="#000" stroke-width="1.6"/>
<text x="45.8" y="891.5" font-size="15.5" font-weight="normal" text-anchor="end" fill="#222" textLength="20.8" lengthAdjust="spacingAndGlyphs" stroke="#222" stroke-width="0.25">1.2</text>
<line x1="73.4" y1="899.0" x2="73.4" y2="907.0" stroke="#000" stroke-width="1.7"/>
<text x="69.9" y="921.3" font-size="14.8" font-weight="normal" text-anchor="middle" fill="#222" textLength="24.5" lengthAdjust="spacingAndGlyphs" stroke="#222" stroke-width="0.25">-1.0</text>
<line x1="115.3" y1="899.0" x2="115.3" y2="907.0" stroke="#000" stroke-width="1.7"/>
<text x="111.8" y="921.3" font-size="14.8" font-weight="normal" text-anchor="middle" fill="#222" textLength="24.5" lengthAdjust="spacingAndGlyphs" stroke="#222" stroke-width="0.25">-0.8</text>
<line x1="160.1" y1="899.0" x2="160.1" y2="907.0" stroke="#000" stroke-width="1.7"/>
<text x="156.6" y="921.3" font-size="14.8" font-weight="normal" text-anchor="middle" fill="#222" textLength="24.5" lengthAdjust="spacingAndGlyphs" stroke="#222" stroke-width="0.25">-0.6</text>
<line x1="203.6" y1="899.0" x2="203.6" y2="907.0" stroke="#000" stroke-width="1.7"/>
<text x="200.1" y="921.3" font-size="14.8" font-weight="normal" text-anchor="middle" fill="#222" textLength="24.5" lengthAdjust="spacingAndGlyphs" stroke="#222" stroke-width="0.25">-0.4</text>
<line x1="247.4" y1="899.0" x2="247.4" y2="907.0" stroke="#000" stroke-width="1.7"/>
<text x="243.9" y="921.3" font-size="14.8" font-weight="normal" text-anchor="middle" fill="#222" textLength="24.5" lengthAdjust="spacingAndGlyphs" stroke="#222" stroke-width="0.25">-0.2</text>
<line x1="287.3" y1="899.0" x2="287.3" y2="907.0" stroke="#000" stroke-width="1.7"/>
<text x="287.7" y="921.3" font-size="14.8" font-weight="normal" text-anchor="middle" fill="#222" textLength="20.0" lengthAdjust="spacingAndGlyphs" stroke="#222" stroke-width="0.25">0.0</text>
<line x1="331.0" y1="899.0" x2="331.0" y2="907.0" stroke="#000" stroke-width="1.7"/>
<text x="331.4" y="921.3" font-size="14.8" font-weight="normal" text-anchor="middle" fill="#222" textLength="20.0" lengthAdjust="spacingAndGlyphs" stroke="#222" stroke-width="0.25">0.2</text>
<line x1="375.1" y1="899.0" x2="375.1" y2="907.0" stroke="#000" stroke-width="1.7"/>
<text x="375.5" y="921.3" font-size="14.8" font-weight="normal" text-anchor="middle" fill="#222" textLength="20.0" lengthAdjust="spacingAndGlyphs" stroke="#222" stroke-width="0.25">0.4</text>
<line x1="419.4" y1="899.0" x2="419.4" y2="907.0" stroke="#000" stroke-width="1.7"/>
<text x="419.8" y="921.3" font-size="14.8" font-weight="normal" text-anchor="middle" fill="#222" textLength="20.0" lengthAdjust="spacingAndGlyphs" stroke="#222" stroke-width="0.25">0.6</text>
<line x1="460.6" y1="899.0" x2="460.6" y2="907.0" stroke="#000" stroke-width="1.7"/>
<text x="461.0" y="921.3" font-size="14.8" font-weight="normal" text-anchor="middle" fill="#222" textLength="20.0" lengthAdjust="spacingAndGlyphs" stroke="#222" stroke-width="0.25">0.8</text>
<line x1="505.9" y1="899.0" x2="505.9" y2="907.0" stroke="#000" stroke-width="1.7"/>
<text x="506.3" y="921.3" font-size="14.8" font-weight="normal" text-anchor="middle" fill="#222" textLength="20.0" lengthAdjust="spacingAndGlyphs" stroke="#222" stroke-width="0.25">1.0</text>
<text x="283.1" y="938.2" font-size="18" font-weight="bold" text-anchor="start" fill="#111" textLength="54.4" lengthAdjust="spacingAndGlyphs" stroke="#111" stroke-width="0.35">z-score</text>
<g transform="translate(13.0,756) rotate(-90)">
<text x="0.0" y="0.0" font-size="18" font-weight="bold" text-anchor="start" fill="#111" textLength="112.4" lengthAdjust="spacingAndGlyphs" stroke="#111" stroke-width="0.35">- log(p-value)</text>
</g>
<text x="529.7" y="523.0" font-size="10.5" font-weight="bold" text-anchor="start" fill="#111" textLength="97.5" lengthAdjust="spacingAndGlyphs" stroke="#111" stroke-width="0.4">Colored by z-score</text>
<circle cx="535.9" cy="535.6" r="4.9" fill="#4472c4" stroke="#2f528f" stroke-width="0.8"/>
<text x="544.6" y="538.6" font-size="11.2" font-weight="bold" text-anchor="start" fill="#111" textLength="78.0" lengthAdjust="spacingAndGlyphs" stroke="#111" stroke-width="0.4">Negative value</text>
<circle cx="535.9" cy="551.1" r="4.9" fill="#ed7d31" stroke="#ae5a21" stroke-width="0.8"/>
<text x="544.6" y="554.1" font-size="11.2" font-weight="bold" text-anchor="start" fill="#111" textLength="73.2" lengthAdjust="spacingAndGlyphs" stroke="#111" stroke-width="0.4">Positive value</text>
<circle cx="535.9" cy="566.7" r="4.9" fill="#ffffff" stroke="#222" stroke-width="0.8"/>
<text x="544.6" y="569.7" font-size="11.2" font-weight="bold" text-anchor="start" fill="#111" textLength="55.0" lengthAdjust="spacingAndGlyphs" stroke="#111" stroke-width="0.4">Zero value</text>
<circle cx="535.9" cy="582.2" r="4.9" fill="#a5a5a5" stroke="#7f7f7f" stroke-width="0.8"/>
<text x="544.6" y="585.2" font-size="11.2" font-weight="bold" text-anchor="start" fill="#111" textLength="99.5" lengthAdjust="spacingAndGlyphs" stroke="#111" stroke-width="0.4">No activity pattern</text>
<text x="529.7" y="616.2" font-size="10.5" font-weight="bold" text-anchor="start" fill="#111" textLength="155.5" lengthAdjust="spacingAndGlyphs" stroke="#111" stroke-width="0.4">Size by number of genes that</text>
<text x="529.7" y="630.7" font-size="10.5" font-weight="bold" text-anchor="start" fill="#111" textLength="109.5" lengthAdjust="spacingAndGlyphs" stroke="#111" stroke-width="0.4">overlap the pathway</text>
<circle cx="541.2" cy="643.7" r="3.6" fill="#a6a6a6" stroke="#808080" stroke-width="0.7"/>
<text x="549.5" y="647.5" font-size="11.2" font-weight="bold" text-anchor="start" fill="#111" stroke="#111" stroke-width="0.4">1</text>
<circle cx="541.2" cy="660.2" r="9.0" fill="#a6a6a6" stroke="#808080" stroke-width="0.7"/>
<text x="551.5" y="664.0" font-size="11.2" font-weight="bold" text-anchor="start" fill="#111" stroke="#111" stroke-width="0.4">3</text>
<circle cx="541.2" cy="691.6" r="15.0" fill="#a6a6a6" stroke="#808080" stroke-width="0.7"/>
<text x="558.4" y="695.4" font-size="11.2" font-weight="bold" text-anchor="start" fill="#111" stroke="#111" stroke-width="0.4">5</text>
</svg>
</body></html>
